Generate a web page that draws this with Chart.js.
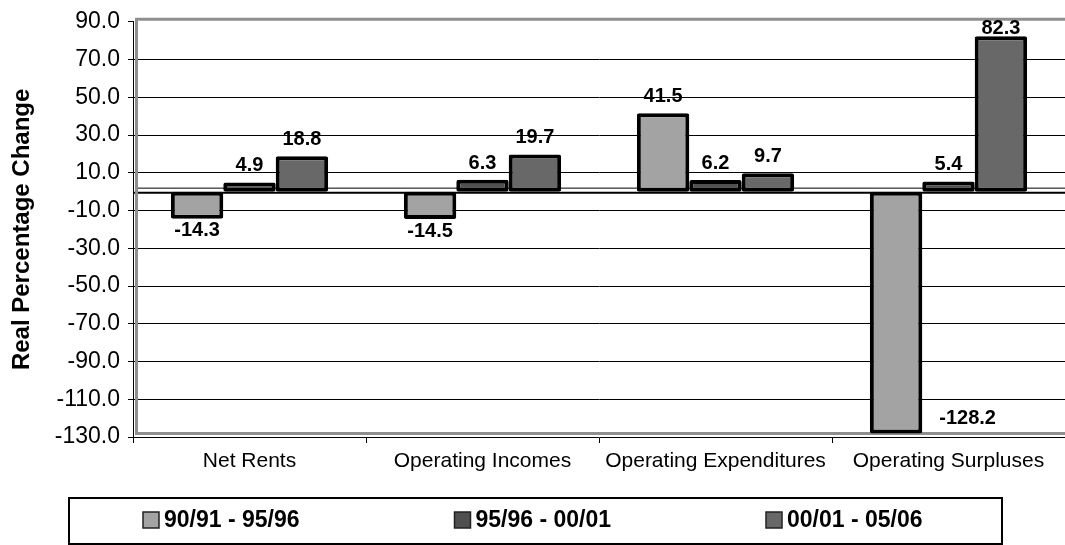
<!DOCTYPE html>
<html>
<head>
<meta charset="utf-8">
<script src="https://cdn.jsdelivr.net/npm/chart.js@4/dist/chart.umd.min.js"></script>
<style>
  body { margin: 0; background: #fff; }
  #wrap { width: 1065px; height: 545px; }
</style>
</head>
<body>
<div id="wrap"><canvas id="c" width="1065" height="545"></canvas></div>
<script>
// data
const categories = ['Net Rents', 'Operating Incomes', 'Operating Expenditures', 'Operating Surpluses'];
const seriesNames = ['90/91 - 95/96', '95/96 - 00/01', '00/01 - 05/06'];
const period1 = [-14.3, -14.5, 41.5, -128.2];
const period2 = [4.9, 6.3, 6.2, 5.4];
const period3 = [18.8, 19.7, 9.7, 82.3];
const yMin = -130, yMax = 90, yStep = 20;

const colors = ['#a3a3a3', '#4f4f4f', '#686868'];
const FONT = 'Liberation Sans, Arial, sans-serif';

// back wall, zero line
const wallPlugin = {
  id: 'wall',
  beforeDatasetsDraw(chart) {
    const {ctx, chartArea: a, scales: {y}} = chart;
    const y0 = y.getPixelForValue(0);
    ctx.save();
    ctx.strokeStyle = '#000';
    ctx.lineWidth = 1;
    ctx.beginPath();
    ctx.moveTo(a.left + 4, y0 - 3.5);
    ctx.lineTo(a.right, y0 - 3.5);
    ctx.stroke();
    ctx.lineWidth = 2;
    ctx.beginPath();
    ctx.moveTo(a.left, y0 + 1);
    ctx.lineTo(a.right, y0 + 1);
    ctx.stroke();
    // gray wall edges
    ctx.strokeStyle = '#8f8f8f';
    ctx.lineWidth = 3;
    ctx.beginPath();
    ctx.moveTo(a.right, a.top - 2.5);
    ctx.lineTo(a.left + 3.5, a.top - 2.5);
    ctx.lineTo(a.left + 3.5, a.bottom - 3.5);
    ctx.lineTo(a.right, a.bottom - 3.5);
    ctx.stroke();
    ctx.restore();
  }
};

// value labels
const labelPlugin = {
  id: 'vals',
  afterDatasetsDraw(chart) {
    const {ctx, chartArea: a} = chart;
    ctx.save();
    ctx.font = 'bold 20px ' + FONT;
    ctx.fillStyle = '#000';
    chart.data.datasets.forEach((ds, i) => {
      chart.getDatasetMeta(i).data.forEach((bar, j) => {
        const v = ds.data[j];
        const txt = v.toFixed(1);
        if (v >= 0) {
          ctx.textAlign = 'center';
          ctx.textBaseline = 'alphabetic';
          ctx.fillText(txt, bar.x, Math.max(bar.y - 11, a.top + 12));
        } else if (bar.y + 22 > a.bottom) {
          ctx.textAlign = 'left';
          ctx.textBaseline = 'middle';
          ctx.fillText(txt, bar.x + bar.width / 2 + 17, a.bottom - 19);
        } else {
          ctx.textAlign = 'center';
          ctx.textBaseline = 'top';
          ctx.fillText(txt, bar.x, bar.y + 2);
        }
      });
    });
    ctx.restore();
  }
};

// boxed legend under the chart
const legendPlugin = {
  id: 'boxLegend',
  afterDraw(chart) {
    const {ctx} = chart;
    ctx.save();
    ctx.strokeStyle = '#000';
    ctx.lineWidth = 2;
    ctx.strokeRect(69, 498, 933, 46);
    ctx.font = 'bold 23px ' + FONT;
    ctx.textAlign = 'left';
    ctx.textBaseline = 'middle';
    chart.data.datasets.forEach((ds, i) => {
      const x = 143 + i * 311.5;
      ctx.fillStyle = ds.backgroundColor;
      ctx.fillRect(x, 512, 16, 16);
      ctx.strokeStyle = '#222';
      ctx.lineWidth = 1.5;
      ctx.strokeRect(x, 512, 16, 16);
      ctx.fillStyle = '#000';
      ctx.fillText(ds.label, x + 21, 521);
    });
    ctx.restore();
  }
};

new Chart(document.getElementById('c'), {
  type: 'bar',
  data: {
    labels: categories,
    datasets: [period1, period2, period3].map((d, i) => ({
      label: seriesNames[i],
      data: d,
      backgroundColor: colors[i],
      borderColor: '#000',
      borderWidth: 4,
      borderSkipped: false,
      borderRadius: 2,
      categoryPercentage: 0.675,
      barPercentage: 1.0
    }))
  },
  options: {
    responsive: false,
    animation: false,
    devicePixelRatio: 1,
    layout: { padding: { top: 16, right: 0, bottom: 0, left: 0 } },
    plugins: {
      legend: { display: false },
      tooltip: { enabled: false }
    },
    scales: {
      x: {
        grid: { drawOnChartArea: false, drawTicks: true, tickLength: 6, color: '#000' },
        border: { display: true, color: '#000', width: 1 },
        ticks: { color: '#000', padding: 6, font: { family: FONT, size: 21 }, maxRotation: 0 },
        afterFit(s) { s.height = 108; }
      },
      y: {
        min: yMin,
        max: yMax,
        ticks: {
          stepSize: yStep,
          color: '#000',
          padding: 8,
          font: { family: FONT, size: 23 },
          callback: v => v.toFixed(1)
        },
        grid: {
          color: ctx => (ctx.tick && (ctx.tick.value === yMin || ctx.tick.value === yMax)) ? 'rgba(0,0,0,0)' : '#000',
          tickColor: '#000',
          tickLength: 5,
          lineWidth: 1
        },
        border: { display: true, color: '#000', width: 1 },
        title: {
          display: true,
          text: 'Real Percentage Change',
          color: '#000',
          padding: { top: 8, bottom: 0 },
          font: { family: FONT, size: 24, weight: 'bold' }
        },
        afterFit(s) { s.width = 133; }
      }
    }
  },
  plugins: [wallPlugin, labelPlugin, legendPlugin]
});
</script>
</body>
</html>
